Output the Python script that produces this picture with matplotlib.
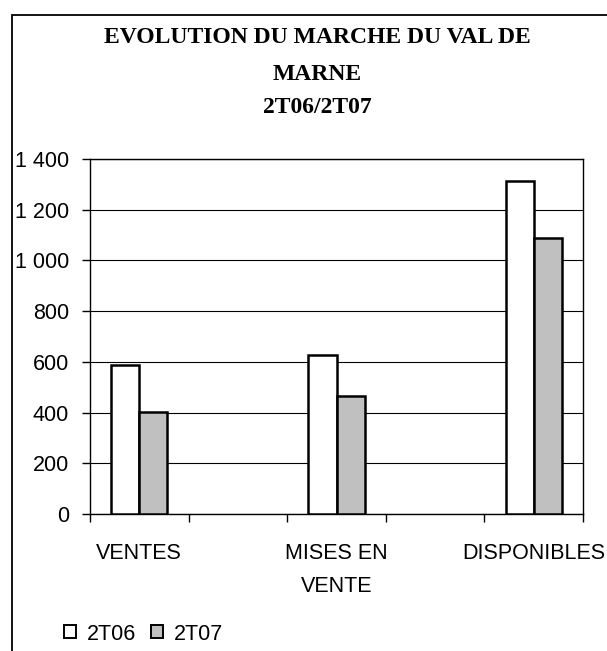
import matplotlib
matplotlib.use("Agg")
import matplotlib.pyplot as plt
from matplotlib.patches import Rectangle, Patch

# donnees
categories = ["VENTES", "MISES EN\nVENTE", "DISPONIBLES"]
series_names = ["2T06", "2T07"]
values_2t06 = [587, 626, 1312]
values_2t07 = [404, 464, 1090]
yticks = [0, 200, 400, 600, 800, 1000, 1200, 1400]
ytick_labels = ["0", "200", "400", "600", "800", "1 000", "1 200", "1 400"]
title_lines = ["EVOLUTION DU MARCHE DU VAL DE", "MARNE", "2T06/2T07"]

plt.rcParams["font.family"] = ["Liberation Sans", "DejaVu Sans"]

W, H = 607, 651
fig = plt.figure(figsize=(W / 100, H / 100), dpi=100)
ax = fig.add_axes([90 / W, 1 - 514 / H, (583 - 90) / W, (514 - 159) / H])

# cadre exterieur (coupe a droite et en bas)
fig.patches.append(Rectangle((11.5 / W, -0.2), 1.0, 1.2 - 14.5 / H,
                             transform=fig.transFigure, fill=False,
                             edgecolor="black", linewidth=1.3))

# les categories sont separees par une case vide
pos = [2 * i for i in range(len(categories))]
bw = 0.284
ax.bar([p - bw / 2 for p in pos], values_2t06, width=bw, color="white",
       edgecolor="black", linewidth=1.8, zorder=3)
ax.bar([p + bw / 2 for p in pos], values_2t07, width=bw, color="#c0c0c0",
       edgecolor="black", linewidth=1.8, zorder=3)

ax.set_xlim(-0.5, 2 * len(categories) - 1.5)
ax.set_ylim(0, 1400)
ax.set_yticks(yticks)
ax.set_yticklabels(ytick_labels, fontsize=15.5)
ax.yaxis.grid(True, color="black", linewidth=0.8)
ax.set_axisbelow(True)

ax.set_xticks(pos)
ax.set_xticklabels(categories, fontsize=15.5, linespacing=1.75)
ax.set_xticks([p - 0.5 for p in range(2 * len(categories))], minor=True)
ax.tick_params(axis="x", which="major", length=0, pad=21)
ax.tick_params(axis="x", which="minor", length=6, width=1, direction="out")
ax.tick_params(axis="y", length=6, width=1, direction="out", pad=9)
for s in ax.spines.values():
    s.set_linewidth(1)

for i, line in enumerate(title_lines):
    fig.text(317 / W, 1 - [43, 80, 113][i] / H, line, ha="center", va="baseline",
             fontsize=17, fontweight="bold", family=["Liberation Serif", "DejaVu Serif"])

handles = [Patch(facecolor="white", edgecolor="black", linewidth=1.4),
           Patch(facecolor="#c0c0c0", edgecolor="black", linewidth=1.4)]
fig.legend(handles, series_names, loc="center left",
           bbox_to_anchor=(64 / W, 1 - 634 / H), ncol=2, frameon=False,
           fontsize=15.5, handlelength=0.55, handleheight=0.55,
           handletextpad=0.5, columnspacing=0.7, borderpad=0, borderaxespad=0)

fig.savefig("out.png", dpi=100)
